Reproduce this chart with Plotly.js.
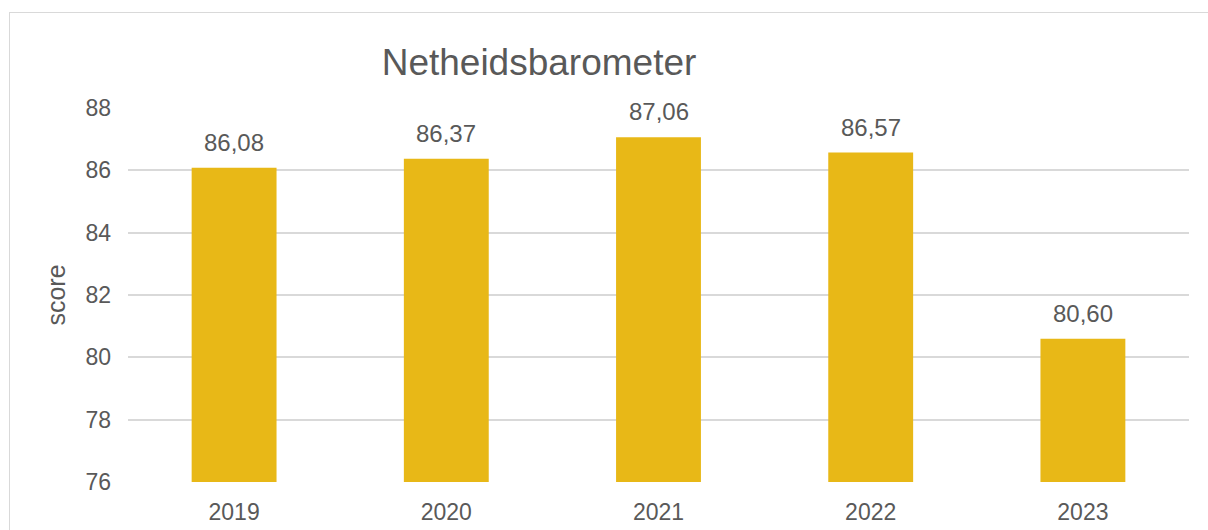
<!DOCTYPE html>
<html>
<head>
<meta charset="utf-8">
<script src="https://cdn.plot.ly/plotly-3.0.1.min.js"></script>
<style>
  html, body { margin: 0; padding: 0; background: #ffffff; }
  #wrap { position: relative; width: 1208px; height: 530px; overflow: hidden; }
  #chart { position: absolute; left: 0; top: 0; width: 1208px; height: 530px; }
  #frame { position: absolute; left: 9px; top: 12px; width: 1300px; height: 700px;
           border-left: 1px solid #d9d9d9; border-top: 1px solid #d9d9d9; pointer-events: none; }
</style>
</head>
<body>
<div id="wrap">
  <div id="chart"></div>
  <div id="frame"></div>
</div>
<script>
const chartTitle = "Netheidsbarometer";
const yAxisTitle = "score";
const years = ["2019", "2020", "2021", "2022", "2023"];
const scores = [86.08, 86.37, 87.06, 86.57, 80.60];
const scoreLabels = ["86,08", "86,37", "87,06", "86,57", "80,60"];
const yTicks = [76, 78, 80, 82, 84, 86, 88];

const textColor = "#595959";
const fontFamily = "Liberation Sans, Arial, sans-serif";

const trace = {
  type: "bar",
  x: years,
  y: scores,
  marker: { color: "#E8B817" },
  hoverinfo: "skip"
};

const annotations = years.map((yr, i) => ({
  x: i,
  y: scores[i],
  xref: "x",
  yref: "y",
  text: scoreLabels[i],
  showarrow: false,
  yanchor: "bottom",
  yshift: 10,
  font: { family: fontFamily, size: 24, color: textColor }
}));

const layout = {
  width: 1208,
  height: 530,
  margin: { l: 128, r: 19, t: 108, b: 48 },
  paper_bgcolor: "rgba(0,0,0,0)",
  plot_bgcolor: "rgba(0,0,0,0)",
  bargap: 0.6,
  showlegend: false,
  font: { family: fontFamily, color: textColor },
  title: {
    text: chartTitle,
    font: { family: fontFamily, size: 37, color: textColor },
    xref: "container",
    yref: "container",
    x: 539 / 1208,
    xanchor: "center",
    y: 1 - 62 / 530,
    yanchor: "middle"
  },
  xaxis: {
    type: "category",
    categoryarray: years,
    range: [-0.5, years.length - 0.5],
    autorange: false,
    showgrid: false,
    zeroline: false,
    showline: false,
    ticks: "",
    ticklabelstandoff: 14,
    tickfont: { family: fontFamily, size: 23, color: textColor }
  },
  yaxis: {
    range: [76, 88],
    autorange: false,
    tickvals: yTicks,
    ticktext: yTicks.map(String),
    showgrid: true,
    gridcolor: "#d9d9d9",
    gridwidth: 2,
    zeroline: false,
    showline: false,
    ticks: "",
    ticklabelstandoff: 16,
    tickfont: { family: fontFamily, size: 23, color: textColor },
    title: {
      text: yAxisTitle,
      font: { family: fontFamily, size: 25, color: textColor },
      standoff: 12
    }
  },
  annotations: annotations
};

Plotly.newPlot("chart", [trace], layout, { displayModeBar: false, staticPlot: true });
</script>
</body>
</html>
